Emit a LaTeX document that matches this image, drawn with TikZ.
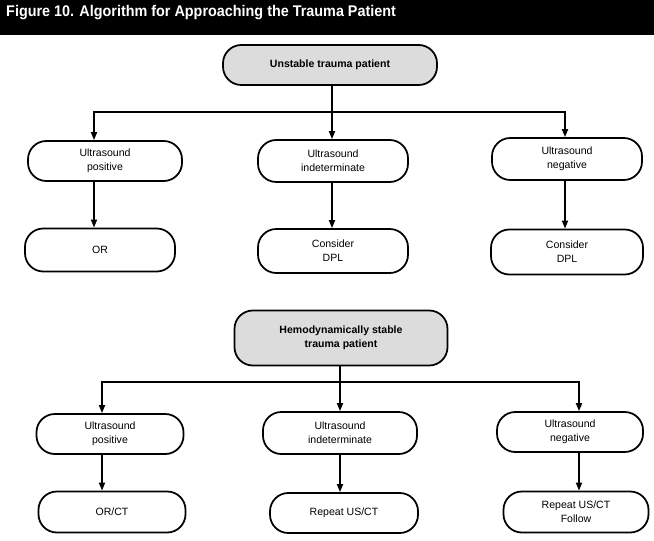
\documentclass[tikz,border=0pt]{standalone}
\usepackage{fontspec}
\setmainfont{Liberation Sans}
\usetikzlibrary{arrows.meta,positioning}
\definecolor{boxgray}{RGB}{220,220,220}

\begin{document}
\begin{tikzpicture}[
    x=0.03cm,y=-0.03cm,
    box/.style={rectangle,draw,line width=1.5pt,rounded corners=0.55cm,align=center,minimum width=4.5cm,minimum height=1.2cm,font=\fontsize{9}{12}\selectfont},
    start/.style={box,fill=boxgray,font=\fontsize{9}{12}\selectfont\bfseries},
    line/.style={line width=1.5pt},
    arrow/.style={line,-{Triangle[width=0.18cm,length=0.24cm]}}
]
\useasboundingbox (0,0) rectangle (654,540);
\fill[black] (0,0) rectangle (654,35);
\node[anchor=west,text=white,font=\fontsize{13.2}{15}\selectfont\bfseries,inner sep=0pt] (title) at (6,13) {\scalebox{0.93}[1]{Figure 10. Algorithm for Approaching the Trauma Patient}};

\node[start,minimum width=6.42cm] (unstable) at (330,65) {Unstable trauma patient};
\node[box,minimum width=4.62cm] (upos) at (105,161) {Ultrasound\\positive};
\node[box,minimum height=1.26cm] (uind) at (333,161) {Ultrasound\\indeterminate};
\node[box,minimum height=1.26cm] (uneg) at (567,159) {Ultrasound\\negative};
\node[box,minimum height=1.29cm] (orA) at (100,250) {OR};
\node[box,minimum height=1.32cm] (dplA) at (333,251) {Consider\\DPL};
\node[box,minimum width=4.56cm,minimum height=1.35cm] (dplB) at (567,252) {Consider\\DPL};

\coordinate (colL) at (94,112);
\coordinate (colM) at (332,112);
\coordinate (colR) at (565,112);

\draw[line] (unstable.south -| colM) -- (colM);
\draw[arrow] (colM) -| (colL |- upos.north);
\draw[arrow] (colM) -| (colR |- uneg.north);
\draw[arrow] (colM) -- (colM |- uind.north);
\draw[arrow] (colL |- upos.south) -- (colL |- orA.north);
\draw[arrow] (colM |- uind.south) -- (colM |- dplA.north);
\draw[arrow] (colR |- uneg.south) -- (colR |- dplB.north);

\node[start,minimum width=6.39cm,minimum height=1.65cm] (stable) at (341,338) {Hemodynamically stable\\trauma patient};
\node[box,minimum width=4.41cm] (bpos) at (110,434) {Ultrasound\\positive};
\node[box,minimum width=4.62cm,minimum height=1.26cm] (bind) at (340,433) {Ultrasound\\indeterminate};
\node[box,minimum width=4.38cm] (bneg) at (570,432) {Ultrasound\\negative};
\node[box,minimum width=4.41cm,minimum height=1.23cm] (orct) at (112,512) {OR/CT};
\node[box,minimum width=4.44cm] (rep) at (344,513) {Repeat US/CT};
\node[box,minimum width=4.35cm,minimum height=1.23cm] (repf) at (576,512) {Repeat US/CT\\Follow};

\coordinate (botL) at (102,382);
\coordinate (botM) at (340,382);
\coordinate (botR) at (579,382);

\draw[line] (stable.south -| botM) -- (botM);
\draw[arrow] (botM) -| (botL |- bpos.north);
\draw[arrow] (botM) -| (botR |- bneg.north);
\draw[arrow] (botM) -- (botM |- bind.north);
\draw[arrow] (botL |- bpos.south) -- (botL |- orct.north);
\draw[arrow] (botM |- bind.south) -- (botM |- rep.north);
\draw[arrow] (botR |- bneg.south) -- (botR |- repf.north);
\end{tikzpicture}
\end{document}
